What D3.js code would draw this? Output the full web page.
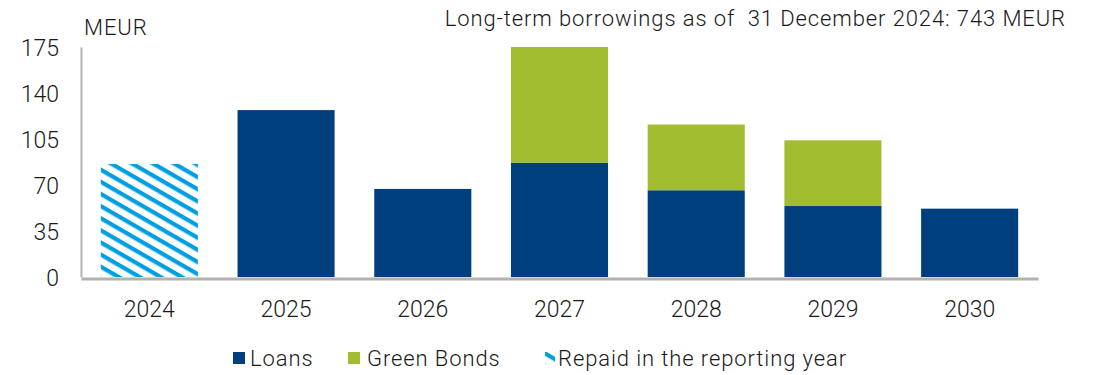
<!DOCTYPE html>
<html>
<head>
<meta charset="utf-8">
<script src="https://cdn.jsdelivr.net/npm/d3@7"></script>
<style>
  html, body { margin: 0; padding: 0; background: #fff; }
  svg { display: block; }
  text { font-family: Roboto, "Liberation Sans", sans-serif; font-weight: 300; fill: #1a1a1a; white-space: pre; }
  .lbl { font-size: 22px; letter-spacing: 0.9px; }
  .num { font-size: 23px; }
</style>
</head>
<body>
<svg id="chart" width="1094" height="375"></svg>
<script>
// Maturity profile of long-term borrowings, MEUR
const years = ["2024", "2025", "2026", "2027", "2028", "2029", "2030"];
const repaid = [86, 0, 0, 0, 0, 0, 0];
const loans = [0, 127, 67, 87, 66, 54, 52];
const greenBonds = [0, 0, 0, 88, 50, 50, 0];
const yTicks = [0, 35, 70, 105, 140, 175];
const seriesNames = ["Loans", "Green Bonds", "Repaid in the reporting year"];

const colors = { loans: "#003f7d", green: "#a3bd31", hatch: "#009fe3", axis: "#b4b1af" };

const svg = d3.select("#chart");
const margin = { left: 81, right: 56, top: 47, bottom: 98 };
const W = 1094, H = 375;

const x = d3.scaleBand().domain(years)
  .range([margin.left, W - margin.right])
  .paddingInner(0.29).paddingOuter(0.145);
const y = d3.scaleLinear().domain([0, 175]).range([H - margin.bottom, margin.top]);

// hatch pattern for the repaid bar
const defs = svg.append("defs");
const pat = defs.append("pattern")
  .attr("id", "hatch")
  .attr("patternUnits", "userSpaceOnUse")
  .attr("width", 20).attr("height", 10.5)
  .attr("patternTransform", "rotate(30)");
pat.append("rect").attr("width", 20).attr("height", 10.5).attr("fill", "#fff");
pat.append("rect").attr("y", 0).attr("width", 20).attr("height", 4.2).attr("fill", colors.hatch);

// stacked bars
const rows = years.map((yr, i) => ({ year: yr, repaid: repaid[i], loans: loans[i], green: greenBonds[i] }));
const stack = d3.stack().keys(["repaid", "loans", "green"])(rows);
const fills = { repaid: "url(#hatch)", loans: colors.loans, green: colors.green };

svg.append("g").selectAll("g").data(stack).join("g")
  .attr("fill", d => fills[d.key])
  .selectAll("rect").data(d => d.filter(s => s[1] - s[0] > 0)).join("rect")
  .attr("x", d => x(d.data.year))
  .attr("width", x.bandwidth())
  .attr("y", d => y(d[1]))
  .attr("height", d => y(d[0]) - y(d[1]));

// axes
const yAxis = d3.axisLeft(y).tickValues(yTicks).tickSize(0).tickPadding(22);
const gy = svg.append("g").attr("transform", `translate(${margin.left},0)`).call(yAxis);
gy.attr("font-family", null).attr("font-size", null);
gy.select(".domain").attr("stroke", colors.axis).attr("stroke-width", 2);
gy.selectAll("text").attr("class", "num").attr("fill", "#1a1a1a").attr("dy", "0.35em");

const xAxis = d3.axisBottom(x).tickSize(0).tickPadding(22);
const gx = svg.append("g").attr("transform", `translate(0,${y(0) + 1.5})`).call(xAxis);
gx.attr("font-family", null).attr("font-size", null);
gx.select(".domain").attr("stroke", colors.axis).attr("stroke-width", 3);
gx.selectAll("text").attr("class", "num").attr("fill", "#1a1a1a");

// unit label and headline
svg.append("text").attr("class", "lbl").attr("x", 84).attr("y", 35).text("MEUR");
svg.append("text").attr("class", "lbl").attr("x", 1066).attr("y", 26).attr("text-anchor", "end")
  .text("Long-term borrowings as of  31 December 2024: 743 MEUR");

// legend
const legend = svg.append("g");
const items = [
  { name: seriesNames[0], fill: colors.loans, x: 233, tx: 250 },
  { name: seriesNames[1], fill: colors.green, x: 348, tx: 367 },
  { name: seriesNames[2], fill: "url(#hatch)", x: 545, tx: 558 }
];
items.forEach(it => {
  legend.append("rect").attr("x", it.x).attr("y", 352)
    .attr("width", it.fill.startsWith("url") ? 10 : 12)
    .attr("height", 12).attr("fill", it.fill);
  legend.append("text").attr("class", "lbl").attr("x", it.tx).attr("y", 366).text(it.name);
});
</script>
</body>
</html>
